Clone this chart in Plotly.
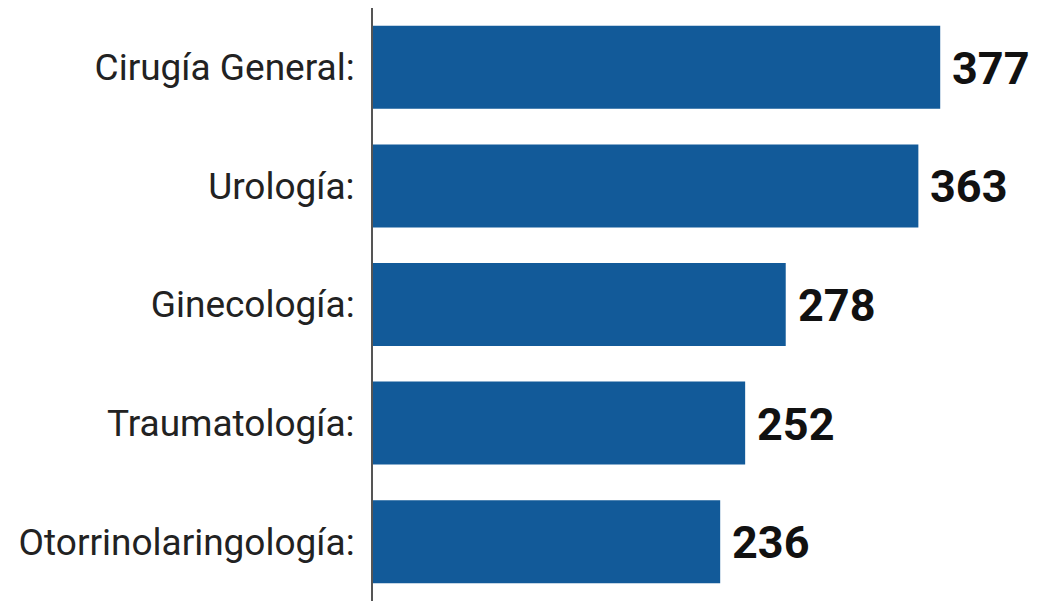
import plotly.graph_objects as go

categories = ["Cirugía General:", "Urología:", "Ginecología:", "Traumatología:", "Otorrinolaringología:"]
values = [377, 363, 278, 252, 236]

fig = go.Figure()
fig.add_trace(go.Bar(
    x=values, y=categories, orientation="h",
    marker=dict(color="#125A99", line=dict(width=0)),
    width=0.7,
))
for c, v in zip(categories, values):
    fig.add_annotation(x=v, y=c, text=f"<b>{v}</b>", showarrow=False,
                       xanchor="left", xshift=10, yshift=-1,
                       font=dict(family="Roboto, Arial, sans-serif", size=45, color="#111"))

fig.update_layout(
    width=1043, height=593,
    margin=dict(l=365, r=0, t=0, b=0),
    paper_bgcolor="white", plot_bgcolor="white",
    showlegend=False,
    xaxis=dict(range=[13.5, 448], visible=False, showgrid=False, zeroline=False),
    yaxis=dict(autorange="reversed", showline=True, linecolor="#555", linewidth=2,
               showgrid=False, ticks="", ticklabelstandoff=9, automargin=False,
               tickfont=dict(family="Roboto, Arial, sans-serif", size=37, color="#222")),
)
fig.write_html("out.html")
